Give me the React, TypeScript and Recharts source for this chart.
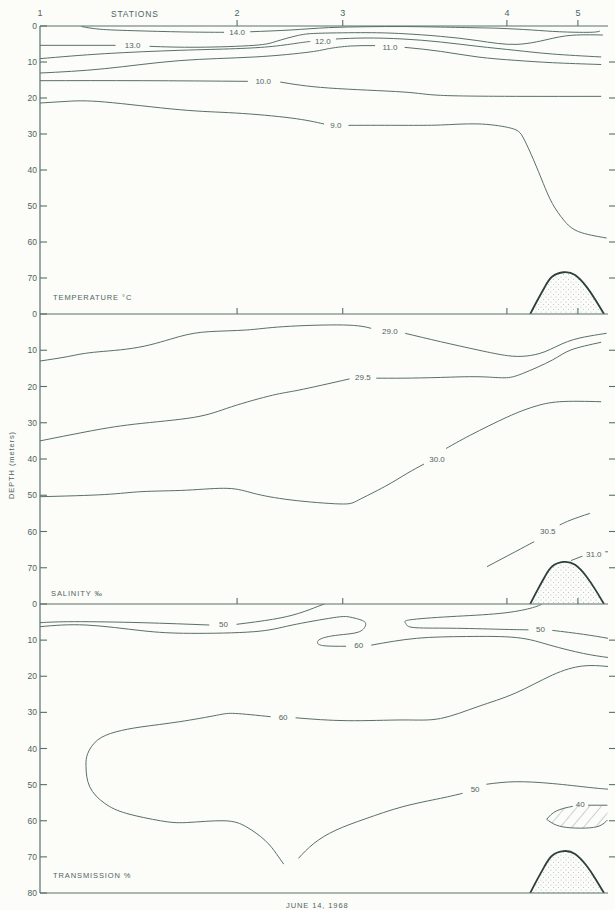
import React from "react";
import {
  ComposedChart,
  Line,
  Area,
  XAxis,
  YAxis,
  ReferenceDot,
  ReferenceLine,
} from "recharts";

// x: relative distance along the section (0 = station 1, 100 = right edge)
// d: depth in metres
type Pair = [number, number | null];

const INK = "#587069";
const TEXT = "#4e655f";
const DARK = "#2e403b";
const FONT = "'Liberation Sans', 'DejaVu Sans', sans-serif";
const PLOT_W = 568;

const stationX = [0, 34.7, 53.3, 82.2, 94.7];
const stationNames = ["1", "2", "3", "4", "5"];
const depthTicks = [0, 10, 20, 30, 40, 50, 60, 70];
const depthTicksLast = [0, 10, 20, 30, 40, 50, 60, 70, 80];

// sea floor bump near station 5
const seabed: Pair[] = [
  [86.3, 80], [87.6, 76.1], [88.9, 72.4], [90.2, 69.6], [92.2, 68.4],
  [94.2, 69.2], [96.2, 72.4], [97.8, 76.1], [99.3, 80],
];

// temperature (°C) isotherms, null = gap for the label
const temp14: Pair[] = [
  [7.3, 0.15], [10.6, 0.9], [16.4, 1.3], [25.2, 1.65], [32.4, 1.75], [34.7, null],
  [37.0, 1.6], [44.2, 1.1], [50.8, 0.45], [57.4, 0.2], [63.9, 0.15], [70.5, 0.3],
  [77.1, 0.5], [81.0, 0.65], [86.5, 1.1], [91.5, 1.6], [96.8, 1.75], [98.6, 1.4],
];
const temp13: Pair[] = [
  [0, 5.37], [13.3, 5.37], [16.3, null], [19.3, 5.65], [27.8, 5.9], [37.7, 5.37],
  [41.6, 4.26], [45.5, 2.6], [49.5, 2.0], [57.4, 1.85], [63.9, 2.13], [70.5, 2.87],
  [77.1, 4.07], [84.0, 5.1], [90.3, 3.4], [94.5, 2.5], [99.1, 2.5],
];
const temp12: Pair[] = [
  [0, 9.07], [11.4, 7.69], [24.5, 6.76], [34.4, 6.3], [41.0, 5.65], [45.5, 4.72],
  [47.6, 4.3], [49.8, null], [52.1, 3.61], [57.4, 3.33], [63.9, 3.61], [70.5, 4.44],
  [77.1, 5.65], [83.7, 6.76], [90.2, 7.78], [98.8, 8.6],
];
const temp11: Pair[] = [
  [0, 13.06], [11.4, 11.85], [24.5, 9.63], [37.7, 8.61], [47.5, 7.22], [50.8, 6.3],
  [54.7, 5.56], [59.0, 5.46], [61.6, null], [64.2, 5.93], [70.5, 7.04], [77.1, 8.61],
  [83.7, 9.54], [90.2, 10.19], [98.8, 10.7],
];
const temp10: Pair[] = [
  [0, 15.19], [18.0, 15.19], [36.6, 15.37], [39.3, null], [42.3, 15.56], [50.8, 17.22],
  [63.9, 18.33], [70.5, 19.26], [83.7, 19.54], [98.8, 19.54],
];
const temp9: Pair[] = [
  [0, 21.39], [4.8, 20.93], [11.4, 21.11], [24.5, 23.24], [34.4, 24.17], [44.2, 25.56],
  [50.0, 27.22], [52.1, null], [54.3, 27.59], [63.9, 27.59], [70.5, 27.5], [77.1, 27.2],
  [82.3, 28.15], [84.3, 29.35], [85.3, 31.7], [86.9, 37.2], [88.6, 43.7], [90.2, 49.3],
  [92.2, 53.9], [94.8, 57.1], [99.75, 58.9],
];

// salinity (‰) isohalines
const sal290: Pair[] = [
  [0, 12.97], [4.8, 11.77], [9.4, 10.57], [17.3, 9.2], [24.5, 6.25], [29.8, 4.87],
  [36.35, 4.41], [42.9, 3.49], [53.4, 3.03], [58.3, 3.95], [61.6, null], [64.3, 5.33],
  [70.5, 7.63], [77.1, 9.93], [82.3, 11.49], [85.6, 11.59], [88.9, 10.39], [92.85, 7.63],
  [96.8, 6.07], [99.75, 5.33],
];
const sal295: Pair[] = [
  [0, 35.0], [8.1, 32.5], [16.6, 30.4], [27.15, 28.5], [33.7, 25.6], [40.95, 22.4],
  [45.55, 21.0], [54.5, 17.9], [56.85, null], [59.2, 17.7], [63.9, 17.7], [70.5, 17.5],
  [77.1, 17.3], [81.7, 17.6], [85.0, 16.4], [90.2, 12.7], [93.5, 9.9], [98.8, 7.8],
];
const sal300: Pair[] = [
  [0, 50.4], [11.4, 49.8], [17.95, 49.0], [25.8, 48.6], [33.1, 48.1], [37.7, 49.5],
  [44.2, 51.3], [52.8, 52.4], [56.1, 51.3], [60.7, 47.6], [64.6, 44.0], [67.6, 41.4],
  [69.9, null], [71.5, 37.1], [75.8, 33.4], [82.3, 28.4], [86.9, 25.6], [91.5, 24.2],
  [98.8, 24.2],
];
const sal305: Pair[] = [
  [78.7, 69.7], [83.65, 65.6], [87.0, 62.8], [89.4, null], [91.5, 58.2], [93.5, 56.8],
  [96.8, 55.0],
];
const sal310: Pair[] = [[93.5, 68.0], [95.5, 66.8]];
const sal310Tail: Pair[] = [[99.5, 65.6], [100.6, 65.6]];

// light transmission (%) contours
const tr50a: Pair[] = [
  [0, 5.17], [6.1, 4.89], [17.95, 5.17], [29.8, 5.82], [32.3, null], [34.6, 5.63],
  [40.95, 4.25], [45.55, 2.59], [48.8, 0.74], [50.1, 0],
];
const tr60a: Pair[] = [
  [0, 6.28], [8.1, 5.82], [17.95, 7.39], [26.5, 8.12], [37.7, 7.66], [44.2, 5.9],
  [51.6, 3.8], [54.5, 3.6], [56.8, 4.6], [57.3, 6.0], [56.0, 7.8], [52.5, 8.6],
  [49.5, 9.6], [48.9, 10.9], [50.3, 11.6], [53.9, 11.7], [56.1, null], [58.3, 11.4],
  [66.3, 9.5], [75.1, 9.0], [83.9, 9.3], [89.8, 11.4], [95.7, 13.7], [100, 14.8],
];
const tr50b: Pair[] = [
  [88.3, 0.1], [86.3, 1.2], [81.0, 2.6], [72.2, 3.5], [65.1, 4.4], [64.4, 5.4],
  [65.7, 6.5], [72.2, 6.7], [81.0, 7.0], [86.0, 7.15], [88.1, null], [90.2, 7.3],
  [95.7, 8.4], [100, 9.5],
];
const tr60b: Pair[] = [
  [100, 17.3], [95.5, 17.17], [90.2, 19.67], [83.65, 24.7], [77.1, 28.4], [70.5, 31.7],
  [63.9, 32.1], [54.1, 32.3], [45.0, 31.5], [42.8, null], [40.6, 31.2], [34.4, 30.3],
  [31.1, 30.8], [24.5, 32.6], [17.95, 34.0], [13.35, 35.4], [10.1, 37.7], [8.4, 41.4],
  [8.1, 45.0], [8.75, 50.6], [11.4, 55.2], [15.3, 58.0], [21.2, 60.0], [25.8, 60.5],
  [32.4, 60.0], [36.35, 61.7], [39.6, 65.4], [41.6, 69.1], [42.9, 72.0],
];
const tr50c: Pair[] = [
  [45.5, 70.4], [48.2, 66.3], [52.1, 62.6], [57.4, 59.4], [63.9, 56.1], [70.5, 53.8],
  [74.4, 52.4], [76.6, null], [78.6, 49.9], [83.65, 49.2], [90.2, 49.7], [96.8, 50.8],
  [100, 51.25],
];
const tr40Top: Pair[] = [[89.2, 59.6], [90.9, 57.3], [93.8, 56.0], [95.1, null], [96.5, 55.7], [99.9, 55.7]];
const tr40Bottom: Pair[] = [[89.2, 59.6], [90.9, 61.2], [93.5, 61.96], [96.8, 61.96], [98.8, 61.2], [99.9, 59.8]];
// [x, top, bottom] of the hatched < 40 % patch
const tr40Patch: [number, number, number][] = [
  [89.2, 59.6, 59.6], [90.9, 57.3, 61.2], [93.5, 56.0, 61.96], [96.8, 55.7, 61.96],
  [98.8, 55.7, 61.2], [99.9, 55.7, 59.8],
];

// contour labels: [text, x, depth]
const tempLabels: [string, number, number][] = [
  ["14.0", 34.7, 1.7], ["13.0", 16.3, 5.3], ["12.0", 49.8, 4.1],
  ["11.0", 61.6, 5.8], ["10.0", 39.3, 15.4], ["9.0", 52.1, 27.5],
];
const salLabels: [string, number, number][] = [
  ["29.0", 61.6, 4.6], ["29.5", 56.85, 17.5], ["30.0", 69.9, 40.0],
  ["30.5", 89.4, 60.0], ["31.0", 97.5, 66.3],
];
const trLabels: [string, number, number][] = [
  ["50", 32.3, 5.7], ["60", 56.1, 11.5], ["50", 88.1, 7.1],
  ["60", 42.8, 31.2], ["50", 76.6, 51.3], ["40", 95.1, 55.4],
];

const toPts = (a: Pair[]) => a.map(([x, d]) => ({ x, d }));

// left tick inside the axis, with a matching short mark outside the right edge
const DepthTick = (props: any) => {
  const { x, y, payload } = props;
  const v = payload.value;
  return (
    <g>
      <line x1={x} x2={x + 7} y1={y} y2={y} stroke={INK} strokeWidth={1.1} />
      {v > 0 && v < 80 && (
        <line x1={x + PLOT_W + 1} x2={x + PLOT_W + 7} y1={y} y2={y} stroke={INK} strokeWidth={1.1} />
      )}
      <text x={x - 3} y={y} dy={3} textAnchor="end" fontSize={8.5} fill={TEXT} fontFamily={FONT}>
        {v}
      </text>
    </g>
  );
};

const makeStationTick = (showLabel: boolean) => (props: any) => {
  const { x, y, payload } = props;
  const i = stationX.indexOf(payload.value);
  return (
    <g>
      {i > 0 && <line x1={x} x2={x} y1={y - 6} y2={y} stroke={INK} strokeWidth={1.1} />}
      {showLabel && (
        <text x={x} y={y - 10} textAnchor="middle" fontSize={9} fill={TEXT} fontFamily={FONT}>
          {stationNames[i]}
        </text>
      )}
    </g>
  );
};

type PanelProps = {
  top: number;
  height: number;
  bottomMargin?: number;
  contours: Pair[][];
  labels: [string, number, number][];
  ticks: number[];
  showStations?: boolean;
  closeBottom?: boolean;
  extraLines?: Pair[][];
  patch?: [number, number, number][];
};

const Panel = ({
  top, height, bottomMargin = 0, contours, labels, ticks, showStations, closeBottom, extraLines = [], patch,
}: PanelProps) => (
  <div style={{ position: "absolute", left: 0, top }}>
    <ComposedChart width={615} height={height} margin={{ top: 0, right: 7, bottom: bottomMargin, left: 0 }}>
      <XAxis
        type="number"
        dataKey="x"
        domain={[0, 100]}
        allowDataOverflow
        ticks={stationX}
        interval={0}
        orientation="top"
        height={20}
        tickSize={0}
        tickMargin={0}
        tickLine={false}
        tick={makeStationTick(!!showStations)}
        axisLine={{ stroke: INK, strokeWidth: 1.2 }}
      />
      <YAxis
        type="number"
        reversed
        domain={[0, 80]}
        allowDataOverflow
        ticks={ticks}
        interval={0}
        width={40}
        tickSize={0}
        tickMargin={0}
        tickLine={false}
        tick={DepthTick}
        axisLine={{ stroke: INK, strokeWidth: 1.2 }}
      />
      <Area
        data={seabed.map(([x, d]) => ({ x, d: [d, 80] }))}
        dataKey="d"
        type="natural"
        fill="url(#seabedDots)"
        stroke="none"
        isAnimationActive={false}
      />
      <Line
        data={toPts(seabed)}
        dataKey="d"
        type="natural"
        stroke={DARK}
        strokeWidth={1.8}
        dot={false}
        isAnimationActive={false}
      />
      {patch && (
        <Area
          data={patch.map(([x, t, b]) => ({ x, d: [t, b] }))}
          dataKey="d"
          type="natural"
          fill="url(#hatch40)"
          stroke="none"
          isAnimationActive={false}
        />
      )}
      {[...contours, ...extraLines].map((c, i) => (
        <Line
          key={i}
          data={toPts(c)}
          dataKey="d"
          type="natural"
          stroke={INK}
          strokeWidth={1}
          dot={false}
          connectNulls={false}
          isAnimationActive={false}
        />
      ))}
      {labels.map(([t, x, d], i) => (
        <ReferenceDot
          key={"l" + i}
          x={x}
          y={d}
          r={0}
          fill="none"
          stroke="none"
          label={{ value: t, position: "center", fill: TEXT, fontSize: 8, fontFamily: FONT }}
        />
      ))}
      {closeBottom && <ReferenceLine y={80} stroke={INK} strokeWidth={1.2} />}
    </ComposedChart>
  </div>
);

const txt = { fill: TEXT, fontFamily: FONT } as const;

export default function App() {
  return (
    <div style={{ position: "relative", width: 615, height: 910, background: "#fcfcf9", overflow: "hidden" }}>
      <style>{"body{margin:0;background:#fcfcf9}"}</style>
      <svg width={0} height={0} style={{ position: "absolute" }}>
        <defs>
          <pattern id="seabedDots" width="5" height="5" patternUnits="userSpaceOnUse">
            <circle cx="1" cy="1" r="0.5" fill="#7a8d87" />
            <circle cx="3.5" cy="3.5" r="0.5" fill="#7a8d87" />
          </pattern>
          <pattern id="hatch40" width="9" height="9" patternUnits="userSpaceOnUse" patternTransform="rotate(40)">
            <line x1="0" y1="0" x2="0" y2="9" stroke={INK} strokeWidth="1" />
          </pattern>
        </defs>
      </svg>

      <Panel
        top={6}
        height={308}
        contours={[temp14, temp13, temp12, temp11, temp10, temp9]}
        labels={tempLabels}
        ticks={depthTicks}
        showStations
      />
      <Panel
        top={294}
        height={310}
        contours={[sal290, sal295, sal300, sal305]}
        extraLines={[sal310, sal310Tail]}
        labels={salLabels}
        ticks={depthTicks}
      />
      <Panel
        top={584}
        height={315}
        bottomMargin={6}
        contours={[tr50a, tr60a, tr50b, tr60b, tr50c, tr40Top, tr40Bottom]}
        patch={tr40Patch}
        labels={trLabels}
        ticks={depthTicksLast}
        closeBottom
      />

      <svg width={615} height={910} style={{ position: "absolute", left: 0, top: 0, pointerEvents: "none" }}>
        <text x={111} y={17} fontSize={8.5} letterSpacing={0.8} {...txt}>STATIONS</text>
        <text x={53} y={300} fontSize={7.5} letterSpacing={0.9} {...txt}>TEMPERATURE °C</text>
        <text x={51} y={596} fontSize={7.5} letterSpacing={0.9} {...txt}>SALINITY ‰</text>
        <text x={53} y={878} fontSize={7.5} letterSpacing={0.9} {...txt}>TRANSMISSION %</text>
        <text x={286} y={908} fontSize={7.5} letterSpacing={0.9} {...txt}>JUNE 14, 1968</text>
        <text
          x={11}
          y={465}
          fontSize={7.5}
          letterSpacing={0.9}
          textAnchor="middle"
          transform="rotate(-90 11 465)"
          dy={3}
          {...txt}
        >
          DEPTH (meters)
        </text>
      </svg>
    </div>
  );
}
